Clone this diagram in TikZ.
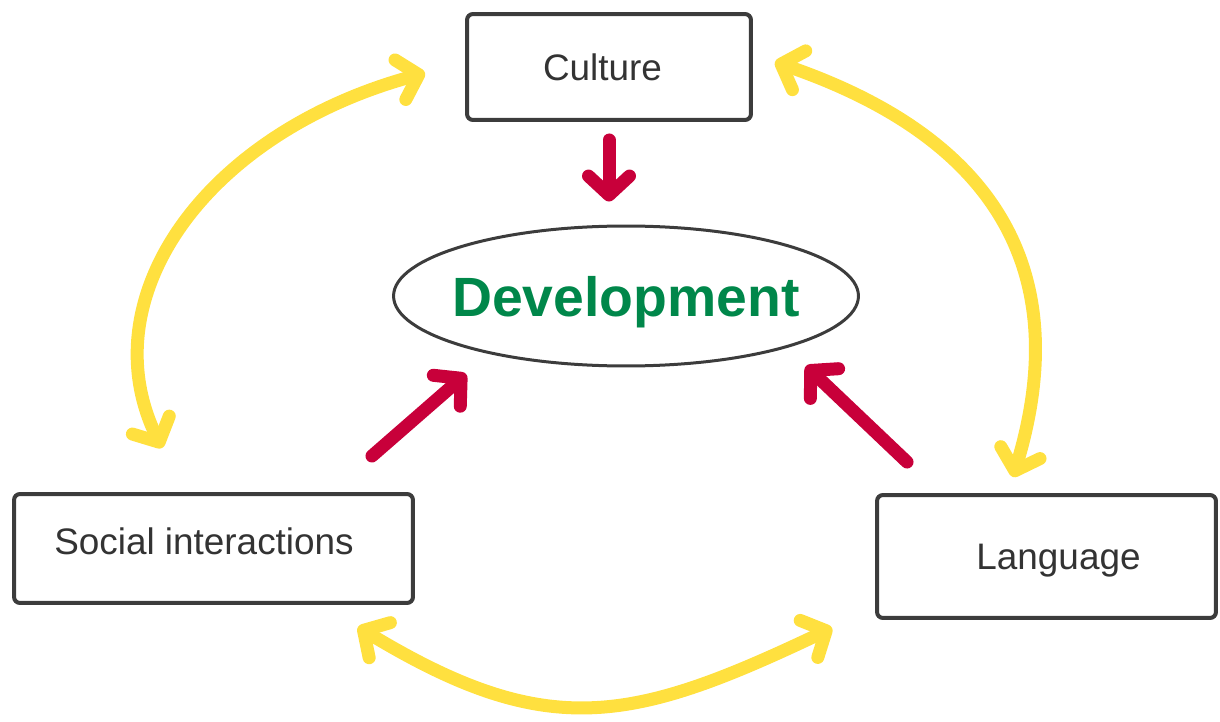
\documentclass[tikz,border=0pt]{standalone}
\usepackage{fontspec}
\setmainfont{Liberation Sans}
\usetikzlibrary{arrows.meta,shapes.geometric}

\definecolor{boxgray}{HTML}{3C3C3C}
\definecolor{txtgray}{HTML}{333333}
\definecolor{devgreen}{HTML}{00874A}
\definecolor{arrowred}{HTML}{C8003A}
\definecolor{arrowyellow}{HTML}{FFE03F}

\tikzset{
  chev/.tip={Straight Barb[length=0.38cm,width=0.82cm,round]},
  box/.style={draw=boxgray, line width=0.08cm, rounded corners=0.12cm, text=txtgray, font=\fontsize{21}{25}\selectfont, text depth=0pt},
  redarrow/.style={draw=arrowred, line width=0.26cm, line cap=round, -chev},
  yelarrow/.style={draw=arrowyellow, line width=0.26cm, line cap=round, chev-chev},
}

\begin{document}
\begin{tikzpicture}[x=0.02cm,y=0.02cm]
	\useasboundingbox (0,0) rectangle (1220,721);

	\node[box, minimum width=5.68cm, minimum height=2.12cm] (culture) at (609,654) {Culture\kern0.26cm};
	\node[box, minimum width=7.98cm, minimum height=2.18cm, text depth=0.3cm] (social) at (213.5,172.5) {Social interactions\kern0.38cm};
	\node[box, minimum width=6.78cm, minimum height=2.46cm] (language) at (1046.5,164.5) {\hspace{0.48cm}Language};
	\node[ellipse, draw=boxgray, line width=0.06cm, inner xsep=-0.19cm, inner ysep=0pt, minimum width=9.3cm, minimum height=2.8cm, text=devgreen, font=\bfseries\fontsize{31.5}{36}\selectfont, text depth=0pt] (dev) at (626,425) {Development};

	% influences on development
	\draw[redarrow, shorten <=0.36cm, shorten >=0.46cm] (culture.south) -- (culture.south |- dev.north);
	\draw[redarrow] ([shift={(-43,36)}]social.north east) -- ([shift={(-160,-78)}]dev.center);
	\draw[redarrow] ([shift={(32,31)}]language.north west) -- ([shift={(180,-70)}]dev.center);

	% mutual links
	\draw[yelarrow] ([shift={(-40,-6)}]culture.west) .. controls +(-220,-60) and +(-73,150) .. ([shift={(-51.5,44)}]social.north);
	\draw[yelarrow] ([shift={(22,5)}]culture.east) .. controls +(236,-81) and +(58,191) .. ([shift={(-33.5,16)}]language.north);
	\draw[yelarrow] ([shift={(-57,-22)}]social.south east) .. controls +(190,-115) and +(-200,-95) .. ([shift={(-43,-8)}]language.south west);
\end{tikzpicture}
\end{document}
